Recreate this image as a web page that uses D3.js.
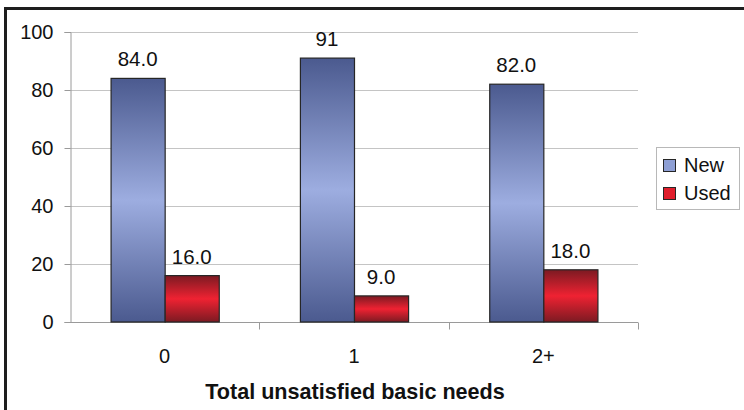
<!DOCTYPE html>
<html>
<head>
<meta charset="utf-8">
<script src="https://cdn.jsdelivr.net/npm/d3@7"></script>
<style>
  html, body { margin: 0; padding: 0; background: #fff; }
  svg { display: block; font-family: "Liberation Sans", Arial, sans-serif; }
</style>
</head>
<body>
<svg id="chart" width="744" height="410"></svg>
<script>
// Share of new vs. used purchases by number of unsatisfied basic needs
const categories = ["0", "1", "2+"];
const seriesNames = ["New", "Used"];
const newValues = [84.0, 91, 82.0];
const usedValues = [16.0, 9.0, 18.0];
const newLabels = ["84.0", "91", "82.0"];
const usedLabels = ["16.0", "9.0", "18.0"];
const yTicks = [0, 20, 40, 60, 80, 100];
const xTitle = "Total unsatisfied basic needs";

const svg = d3.select("#chart");
const W = 744, H = 410;
const plot = { left: 70, right: 638, top: 32, bottom: 322 };

// Outer frame (only top and left edges fall inside the view)
svg.append("path")
  .attr("d", `M5.5,${H + 5} L5.5,8.5 L${W + 5},8.5`)
  .attr("fill", "none")
  .attr("stroke", "#1e1e1e")
  .attr("stroke-width", 3);

const defs = svg.append("defs");
function barGradient(id, edge, mid) {
  const g = defs.append("linearGradient")
    .attr("id", id).attr("x1", 0).attr("y1", 0).attr("x2", 0).attr("y2", 1);
  g.append("stop").attr("offset", "0%").attr("stop-color", edge);
  g.append("stop").attr("offset", "50%").attr("stop-color", mid);
  g.append("stop").attr("offset", "100%").attr("stop-color", edge);
}
barGradient("gNew", "#4b5a8f", "#9dade0");
barGradient("gUsed", "#7c1a22", "#ef2232");

const x = d3.scaleBand().domain(categories).range([plot.left, plot.right]);
const inner = d3.scaleBand().domain(seriesNames)
  .range([0, x.bandwidth()]).paddingOuter(0.75).paddingInner(0);
const y = d3.scaleLinear().domain([0, 100]).range([plot.bottom, plot.top]);

// Horizontal gridlines
svg.append("g").selectAll("line").data(yTicks.filter(d => d > 0)).join("line")
  .attr("x1", plot.left).attr("x2", plot.right)
  .attr("y1", d => Math.round(y(d)) + 0.5).attr("y2", d => Math.round(y(d)) + 0.5)
  .attr("stroke", "#c4c4c4").attr("stroke-width", 1);

// Y axis
const yAxis = svg.append("g")
  .attr("transform", `translate(${plot.left + 0.5},0)`)
  .call(d3.axisLeft(y).tickValues(yTicks).tickSize(6).tickPadding(11).tickFormat(d3.format("d")));
yAxis.select(".domain").attr("stroke", "#9a9a9a");
yAxis.selectAll(".tick line").attr("stroke", "#9a9a9a");
yAxis.selectAll(".tick text")
  .attr("font-size", 20).attr("fill", "#111")
  .attr("font-family", "'Liberation Sans', Arial, sans-serif");

// X axis with ticks between categories
const xAxisG = svg.append("g").attr("transform", `translate(0,${plot.bottom + 0.5})`);
xAxisG.append("line")
  .attr("x1", plot.left).attr("x2", plot.right)
  .attr("stroke", "#9a9a9a");
const bounds = categories.map(c => x(c)).concat([plot.right]).slice(1);
xAxisG.selectAll("line.sep").data(bounds).join("line")
  .attr("class", "sep")
  .attr("x1", d => Math.round(d) + 0.5).attr("x2", d => Math.round(d) + 0.5)
  .attr("y1", 0).attr("y2", 7)
  .attr("stroke", "#9a9a9a");
xAxisG.selectAll("text").data(categories).join("text")
  .attr("x", d => x(d) + x.bandwidth() / 2)
  .attr("y", 40)
  .attr("text-anchor", "middle")
  .attr("font-size", 20).attr("fill", "#111")
  .text(d => d);

// Bars
const rows = categories.map((c, i) => ({
  cat: c,
  items: [
    { key: "New", value: newValues[i], label: newLabels[i] },
    { key: "Used", value: usedValues[i], label: usedLabels[i] }
  ]
}));
const groups = svg.append("g").selectAll("g").data(rows).join("g")
  .attr("transform", d => `translate(${x(d.cat)},0)`);
groups.selectAll("rect").data(d => d.items).join("rect")
  .attr("x", d => inner(d.key) + 0.5)
  .attr("width", inner.bandwidth())
  .attr("y", d => y(d.value))
  .attr("height", d => y(0) - y(d.value))
  .attr("fill", d => d.key === "New" ? "url(#gNew)" : "url(#gUsed)")
  .attr("stroke", "#262626").attr("stroke-width", 1.2);
groups.selectAll("text").data(d => d.items).join("text")
  .attr("x", d => inner(d.key) + inner.bandwidth() / 2)
  .attr("y", d => y(d.value) - 12)
  .attr("text-anchor", "middle")
  .attr("font-size", 20.5).attr("fill", "#111")
  .text(d => d.label);

// Axis title
svg.append("text")
  .attr("x", (plot.left + plot.right) / 2 + 1)
  .attr("y", 399)
  .attr("text-anchor", "middle")
  .attr("font-size", 21.6).attr("font-weight", "bold").attr("fill", "#111")
  .text(xTitle);

// Legend
const legend = svg.append("g");
legend.append("rect")
  .attr("x", 656.5).attr("y", 147.5).attr("width", 83).attr("height", 62)
  .attr("fill", "#fff").attr("stroke", "#b8b8b8");
const swatchColors = ["#8e9fd4", "#e01e2c"];
seriesNames.forEach((name, i) => {
  const cy = 165 + i * 28;
  legend.append("rect")
    .attr("x", 663.5).attr("y", cy - 5.5).attr("width", 12).attr("height", 12)
    .attr("fill", swatchColors[i]).attr("stroke", "#262626");
  legend.append("text")
    .attr("x", 684).attr("y", cy + 7)
    .attr("font-size", 20).attr("fill", "#111")
    .text(name);
});
</script>
</body>
</html>
